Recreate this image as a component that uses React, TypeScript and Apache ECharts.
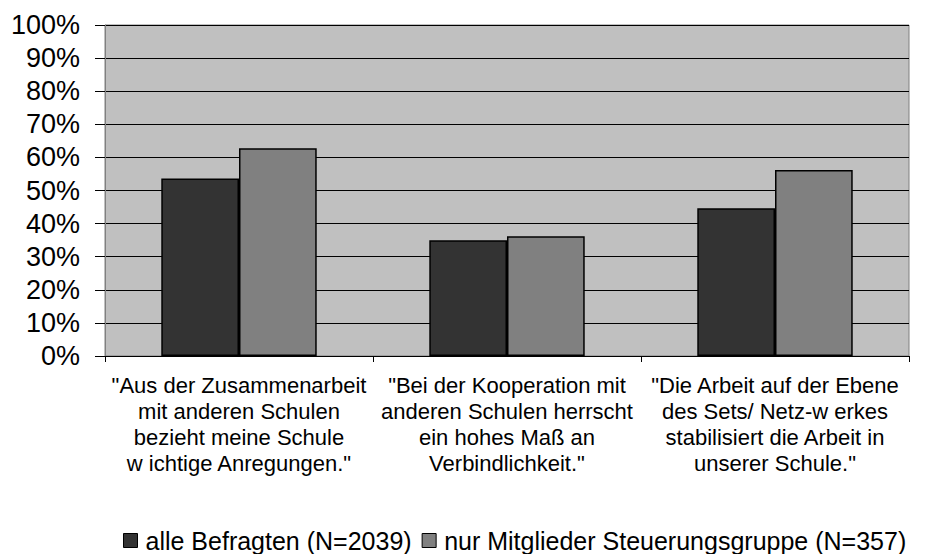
import React, { useEffect, useRef } from "react";
import * as echarts from "echarts";

const categories = [
  "\"Aus der Zusammenarbeit\nmit anderen Schulen\nbezieht meine Schule\nw ichtige Anregungen.\"",
  "\"Bei der Kooperation mit\nanderen Schulen herrscht\nein hohes Maß an\nVerbindlichkeit.\"",
  "\"Die Arbeit auf der Ebene\ndes Sets/ Netz-w erkes\nstabilisiert die Arbeit in\nunserer Schule.\"",
];
const seriesNames = ["alle Befragten (N=2039)", "nur Mitglieder Steuerungsgruppe (N=357)"];
const alleBefragten = [53.6, 35.0, 44.6];
const steuerungsgruppe = [62.8, 36.2, 56.2];

export default function App() {
  const ref = useRef<HTMLDivElement>(null);
  useEffect(() => {
    if (!ref.current) return;
    const chart = echarts.init(ref.current, undefined, { renderer: "svg" });
    const font = "Liberation Sans";
    chart.setOption({
      animation: false,
      backgroundColor: "#ffffff",
      grid: {
        left: 105,
        right: 19,
        top: 25,
        bottom: 198,
        show: true,
        backgroundColor: "#c0c0c0",
        borderColor: "#808080",
        borderWidth: 1,
      },
      legend: {
        top: 528,
        left: 123,
        padding: 0,
        itemWidth: 14,
        itemHeight: 14,
        itemGap: 10,
        icon: "rect",
        itemStyle: { borderColor: "#000", borderWidth: 1 },
        textStyle: { fontFamily: font, fontSize: 25, lineHeight: 24, color: "#000", padding: [0, 0, 0, 3] },
        data: seriesNames,
      },
      xAxis: {
        type: "category",
        data: categories,
        axisLine: { lineStyle: { color: "#000", width: 1 } },
        axisTick: { show: true, alignWithLabel: false, length: 6, lineStyle: { color: "#000" } },
        axisLabel: {
          interval: 0,
          margin: 17,
          fontFamily: font,
          fontSize: 22,
          lineHeight: 25.8,
          color: "#000",
          align: "center",
        },
        splitLine: { show: false },
      },
      yAxis: {
        type: "value",
        min: 0,
        max: 100,
        interval: 10,
        axisLine: { show: true, lineStyle: { color: "#808080", width: 1 } },
        axisTick: { show: true, length: 10, lineStyle: { color: "#000" } },
        axisLabel: {
          formatter: "{value}%",
          fontFamily: font,
          fontSize: 27,
          color: "#000",
          margin: 25,
        },
        splitLine: { show: true, lineStyle: { color: "#000", width: 1 } },
      },
      series: [
        {
          name: seriesNames[0],
          type: "bar",
          data: alleBefragten,
          barGap: "0%",
          barCategoryGap: "42%",
          itemStyle: { color: "#333333", borderColor: "#000", borderWidth: 1.5 },
        },
        {
          name: seriesNames[1],
          type: "bar",
          data: steuerungsgruppe,
          barGap: "0%",
          barCategoryGap: "42%",
          itemStyle: { color: "#808080", borderColor: "#000", borderWidth: 1.5 },
        },
      ],
    });
    return () => chart.dispose();
  }, []);
  return (
    <div
      ref={ref}
      style={{ position: "absolute", left: 0, top: 0, width: 928, height: 554 }}
    />
  );
}
